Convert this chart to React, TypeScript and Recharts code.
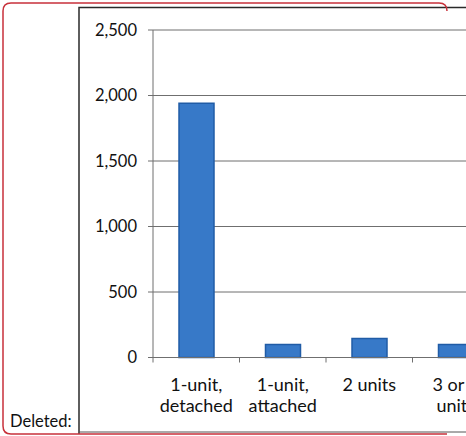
import { BarChart, Bar, XAxis, YAxis, CartesianGrid } from "recharts";

// housing units by structure type
const categories = ["1-unit, detached", "1-unit, attached", "2 units", "3 or 4 units"];
const categoryLines = [
  ["1-unit,", "detached"],
  ["1-unit,", "attached"],
  ["2 units"],
  ["3 or 4", "units"],
];
const unitCounts = [1940, 100, 145, 100];
const yTicks = [0, 500, 1000, 1500, 2000, 2500];

const data = categories.map((name, i) => ({ name, units: unitCounts[i] }));

const FONT = "Lato, 'Open Sans', sans-serif";
const TEXT = "#111";
const CHART_W = 520;
const CHART_H = 436;
const MARGIN = { top: 30, right: 21, left: 0, bottom: 0 };
const Y_AXIS_W = 153;
const PLOT_W = CHART_W - MARGIN.left - MARGIN.right - Y_AXIS_W;
const BAND = PLOT_W / categories.length;

function CategoryTick(props: any) {
  const { x, y, payload, index } = props;
  const lines = categoryLines[index] ?? [String(payload.value)];
  return (
    <g>
      {index === 0 && (
        <line x1={x - BAND / 2} x2={x - BAND / 2} y1={y} y2={y + 5} stroke="#6f6f6f" />
      )}
      <line x1={x + BAND / 2} x2={x + BAND / 2} y1={y} y2={y + 5} stroke="#6f6f6f" />
      <text x={x} y={y} textAnchor="middle" fontFamily={FONT} fontSize={18} fill={TEXT}>
        {lines.map((l, k) => (
          <tspan key={k} x={x} dy={k === 0 ? 33 : 21}>
            {l}
          </tspan>
        ))}
      </text>
    </g>
  );
}

export default function App() {
  return (
    <div
      style={{
        position: "absolute",
        left: 0,
        top: 0,
        width: 466,
        height: 436,
        overflow: "hidden",
        background: "#fff",
      }}
    >
      <div style={{ position: "absolute", left: 0, top: 0 }}>
        <BarChart width={CHART_W} height={CHART_H} data={data} margin={MARGIN}>
          <CartesianGrid vertical={false} stroke="#6f6f6f" />
          <XAxis
            dataKey="name"
            interval={0}
            height={CHART_H - MARGIN.top - 327.5}
            tickSize={0}
            tickMargin={0}
            axisLine={{ stroke: "#6f6f6f" }}
            tick={<CategoryTick />}
          />
          <YAxis
            width={Y_AXIS_W}
            domain={[0, 2500]}
            ticks={yTicks}
            interval={0}
            tickSize={5}
            tickMargin={11}
            axisLine={{ stroke: "#6f6f6f" }}
            tickLine={{ stroke: "#6f6f6f" }}
            tick={{ fontFamily: FONT, fontSize: 16.5, fill: TEXT }}
            tickFormatter={(v) => Number(v).toLocaleString("en-US")}
          />
          <Bar
            dataKey="units"
            barSize={35}
            fill="#3779c8"
            stroke="#205ca6"
            strokeWidth={1.5}
            isAnimationActive={false}
          />
        </BarChart>
      </div>
      <svg
        width={466}
        height={436}
        style={{ position: "absolute", left: 0, top: 0, pointerEvents: "none" }}
      >
        {/* frame around the chart object */}
        <path d="M 79 434 L 79 7.5 L 470 7.5" fill="none" stroke="#2a2a2a" strokeWidth={1.5} />
        <path d="M 79 432 L 470 432" fill="none" stroke="#555" strokeWidth={1} />
        {/* revision markup border */}
        <path
          d="M 447 11 Q 447 3 439 3 L 11 3 Q 3 3 3 11 L 3 426 Q 3 434 11 434 L 447 434"
          fill="none"
          stroke="#c8313b"
          strokeWidth={1.5}
        />
        <text x={10} y={427} fontFamily={FONT} fontSize={16.5} fill={TEXT}>
          Deleted:
        </text>
      </svg>
    </div>
  );
}
